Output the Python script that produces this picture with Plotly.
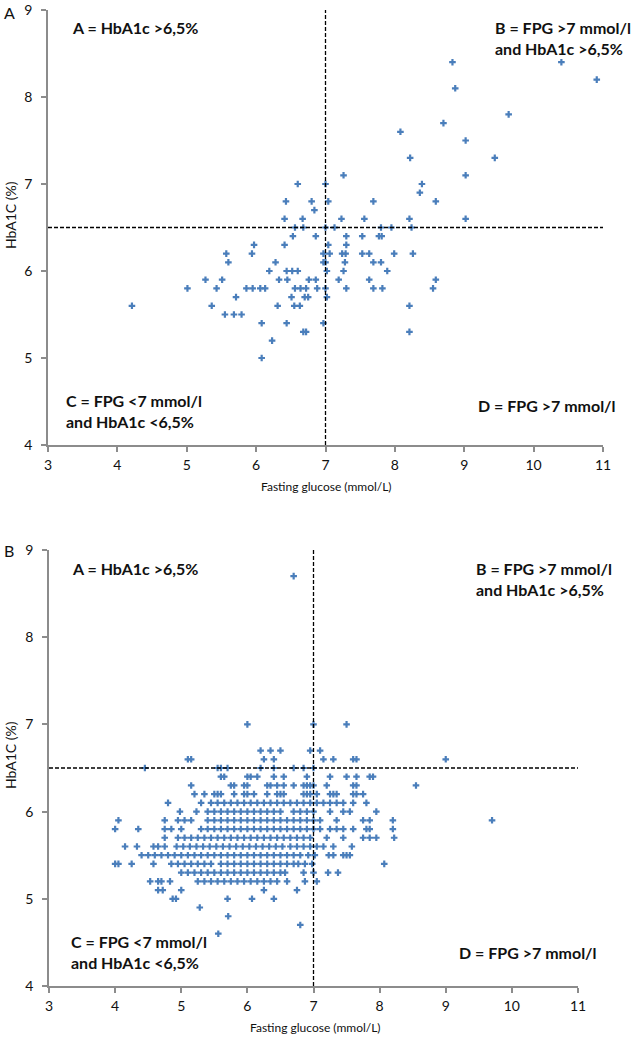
import plotly.graph_objs as go
from plotly.subplots import make_subplots

# Panel A: fasting glucose (mmol/L) vs HbA1c (%)
a_glucose = [4.21, 5.01, 5.27, 5.43, 5.51, 5.36, 5.57, 5.60, 5.55, 5.68, 5.79, 5.71,
             5.86, 5.95, 6.06, 6.13, 5.94, 5.97, 6.08, 6.08, 6.23, 6.19, 6.28, 6.31,
             6.33, 6.41, 6.41, 6.43, 6.44, 6.44, 6.45, 6.51, 6.52, 6.53, 6.55, 6.56,
             6.56, 6.60, 6.60, 6.63, 6.64, 6.67, 6.68, 6.68, 6.72, 6.70, 6.75, 6.72,
             6.76, 6.80, 6.84, 6.86, 6.86, 6.88, 6.97, 6.97, 6.97, 7.00, 7.00, 7.00,
             7.02, 7.02, 7.04, 7.04, 7.06, 7.00, 7.13, 7.19, 7.23, 7.24, 7.26, 7.26,
             7.28, 7.29, 7.30, 7.30, 7.30, 7.53, 7.53, 7.56, 7.63, 7.63, 7.69, 7.69,
             7.69, 7.77, 7.81, 7.80, 7.80, 7.82, 7.89, 7.95, 7.99, 8.08, 8.21, 8.21,
             8.21, 8.22, 8.24, 8.26, 8.36, 8.39, 8.55, 8.59, 8.59, 8.70, 8.83, 8.87,
             9.02, 9.02, 9.02, 9.44, 9.64, 10.40, 10.91]
a_hba1c = [5.6, 5.8, 5.9, 5.8, 5.9, 5.6, 6.2, 6.1, 5.5, 5.5, 5.5, 5.7,
           5.8, 5.8, 5.8, 5.8, 6.2, 6.3, 5.4, 5.0, 5.2, 6.0, 6.1, 5.6,
           5.9, 6.3, 6.6, 6.8, 6.0, 5.4, 5.9, 5.7, 6.0, 6.4, 5.6, 6.5,
           5.8, 6.0, 7.0, 5.6, 5.8, 6.6, 6.5, 5.3, 5.3, 5.7, 5.7, 5.8,
           5.9, 6.8, 6.7, 6.4, 5.9, 5.8, 6.2, 6.1, 5.4, 7.0, 6.5, 5.8,
           6.0, 5.7, 6.8, 6.3, 6.2, 6.1, 6.5, 5.9, 6.6, 6.2, 7.1, 6.0,
           6.1, 6.2, 6.4, 6.3, 5.8, 6.4, 6.2, 6.6, 6.2, 5.9, 6.8, 6.1,
           5.8, 6.4, 6.4, 6.5, 6.1, 5.8, 6.0, 6.5, 6.2, 7.6, 6.6, 5.6,
           5.3, 7.3, 6.5, 6.2, 6.9, 7.0, 5.8, 6.8, 5.9, 7.7, 8.4, 8.1,
           7.5, 7.1, 6.6, 7.3, 7.8, 8.4, 8.2]

# Panel B: one HbA1c level per row, glucose values found on that row
b_levels = [8.7, 7.0, 6.7, 6.6, 6.5, 6.4, 6.3, 6.2, 6.1, 6.0, 5.9, 5.8, 5.7,
            5.6, 5.5, 5.4, 5.3, 5.2, 5.1, 5.0, 4.9, 4.8, 4.7, 4.6]
b_glucose_rows = [
    [6.7],
    [6.0, 7.0, 7.5],
    [6.2, 6.35, 6.5, 6.95, 7.1],
    [5.1, 5.15, 6.25, 6.4, 7.15, 7.3, 7.6, 7.65, 9.0],
    [4.45, 5.55, 5.6, 5.7, 6.2, 6.4, 6.7, 6.85, 7.0],
    [5.6, 5.65, 6.0, 6.05, 6.15, 6.4, 6.55, 6.9, 7.25, 7.5, 7.65, 7.85, 7.9],
    [5.15, 5.75, 5.8, 5.95, 6.0, 6.3, 6.35, 6.45, 6.55, 6.7, 6.85, 6.9, 6.95,
     7.0, 7.2, 7.6, 7.65, 8.55],
    [5.2, 5.35, 5.5, 5.55, 5.6, 5.8, 5.95, 6.0, 6.1, 6.3, 6.45, 6.5, 6.55, 6.85,
     6.9, 6.95, 7.05, 7.25, 7.3, 7.35, 7.6, 7.65, 7.75],
    [4.8, 5.3, 5.45, 5.55, 5.65, 5.75, 5.85, 5.95, 6.05, 6.15, 6.25, 6.35, 6.45,
     6.55, 6.65, 6.75, 6.85, 6.95, 7.05, 7.15, 7.25, 7.35, 7.45, 7.6, 7.8],
    [4.98, 5.23, 5.4, 5.5, 5.6, 5.7, 5.8, 5.9, 6.0, 6.1, 6.2, 6.3, 6.4, 6.5,
     6.7, 6.8, 6.9, 7.0, 7.25, 7.45, 7.55, 7.95],
    [4.05, 4.75, 4.95, 5.05, 5.15, 5.4, 5.5, 5.6, 5.7, 5.8, 5.9, 6.0, 6.1, 6.2,
     6.3, 6.4, 6.5, 6.6, 6.7, 6.8, 6.9, 7.0, 7.1, 7.35, 7.75, 7.85, 8.2, 9.7],
    [4.0, 4.35, 4.75, 4.85, 5.0, 5.3, 5.4, 5.5, 5.6, 5.7, 5.8, 5.9, 6.0, 6.1,
     6.2, 6.3, 6.4, 6.5, 6.6, 6.7, 6.8, 6.9, 7.0, 7.1, 7.25, 7.35, 7.45, 7.6,
     7.8, 7.85, 8.2],
    [4.75, 4.95, 5.05, 5.15, 5.25, 5.35, 5.45, 5.55, 5.65, 5.75, 5.85, 5.95,
     6.05, 6.15, 6.25, 6.35, 6.45, 6.55, 6.65, 6.75, 6.85, 6.95, 7.2, 7.45,
     7.75, 7.85, 7.95, 8.22],
    [4.15, 4.33, 4.58, 4.65, 4.75, 4.93, 5.03, 5.13, 5.23, 5.33, 5.43, 5.53,
     5.63, 5.73, 5.83, 5.93, 6.03, 6.13, 6.23, 6.33, 6.43, 6.53, 6.65, 6.75,
     6.85, 6.95, 7.05, 7.15, 7.3, 7.58],
    [4.4, 4.5, 4.6, 4.7, 4.8, 4.9, 5.0, 5.1, 5.2, 5.3, 5.4, 5.5, 5.6, 5.7, 5.8,
     5.9, 6.0, 6.1, 6.2, 6.3, 6.4, 6.5, 6.6, 6.7, 6.8, 6.92, 7.02, 7.23, 7.3,
     7.45, 7.5, 7.55],
    [4.0, 4.05, 4.25, 4.58, 4.85, 4.95, 5.05, 5.15, 5.25, 5.35, 5.45, 5.6, 5.7,
     5.8, 5.9, 6.0, 6.1, 6.2, 6.3, 6.4, 6.5, 6.6, 6.7, 6.77, 6.87, 6.98, 8.07],
    [5.0, 5.1, 5.2, 5.3, 5.4, 5.5, 5.6, 5.7, 5.8, 5.9, 6.0, 6.1, 6.2, 6.3, 6.4,
     6.5, 6.57, 6.85, 7.0, 7.22, 7.37],
    [4.53, 4.65, 4.7, 4.83, 5.25, 5.35, 5.45, 5.55, 5.65, 5.75, 5.85, 5.95,
     6.05, 6.15, 6.25, 6.35, 6.45, 6.6, 6.87, 7.05],
    [4.65, 4.72, 5.0, 6.25, 6.75],
    [4.87, 4.92, 5.7, 6.07, 6.4],
    [5.28],
    [5.71],
    [6.8],
    [5.56],
]

x_ticks = [3, 4, 5, 6, 7, 8, 9, 10, 11]
y_ticks = [4, 5, 6, 7, 8, 9]
fpg_cut = 7
hba1c_cut = 6.5

b_glucose = [g for row in b_glucose_rows for g in row]
b_hba1c = [lvl for lvl, row in zip(b_levels, b_glucose_rows) for _ in row]

# page body margin is dropped (see post_script), so paper = window pixels
W, H = 641, 1039
FONT = "Lato, Carlito, 'Open Sans', sans-serif"
BLUE = "#4a7ebb"


def fx(px):
    return px / W


def fy(py):
    return 1 - py / H


fig = make_subplots(rows=2, cols=1)

marker = dict(symbol="cross", size=5.5, color=BLUE, line=dict(width=0))
fig.add_trace(go.Scatter(x=a_glucose, y=a_hba1c, mode="markers", marker=marker,
                         showlegend=False), row=1, col=1)
fig.add_trace(go.Scatter(x=b_glucose, y=b_hba1c, mode="markers", marker=marker,
                         showlegend=False), row=2, col=1)

# quadrant cut lines
dash = dict(color="black", width=1.3, dash="4px,2px")
for r in (1, 2):
    fig.add_trace(go.Scatter(x=[3, 11.07], y=[hba1c_cut, hba1c_cut], mode="lines",
                             line=dash, showlegend=False, hoverinfo="skip"), row=r, col=1)
    fig.add_trace(go.Scatter(x=[fpg_cut, fpg_cut], y=[4, 9], mode="lines",
                             line=dash, showlegend=False, hoverinfo="skip"), row=r, col=1)

axis_style = dict(showgrid=False, zeroline=False, showline=True, linecolor="#8c8c8c",
                  linewidth=1.5, ticks="outside", ticklen=5, tickcolor="#8c8c8c",
                  tickwidth=1.5, automargin=False, ticklabeloverflow="allow",
                  tickfont=dict(family=FONT, size=14, color="#111"))

fig.update_xaxes(range=[3, 11], tickvals=x_ticks, ticklabelstandoff=1, **axis_style)
fig.update_yaxes(range=[4, 9], tickvals=y_ticks, ticklabelstandoff=6, **axis_style)

# pixel placement of the two plot areas
fig.update_layout(
    xaxis=dict(domain=[fx(48), fx(603)], anchor="y"),
    yaxis=dict(domain=[fy(445), fy(10)], anchor="x"),
    xaxis2=dict(domain=[fx(49), fx(578)], anchor="y2"),
    yaxis2=dict(domain=[fy(986), fy(550)], anchor="x2"),
)
fig.update_traces(cliponaxis=False)


def px_note(text, x, y, size=16, bold=True, xanchor="left", angle=0):
    fig.add_annotation(text=f"<b>{text}</b>" if bold else text, x=fx(x), y=fy(y),
                       xref="paper", yref="paper", xanchor=xanchor, yanchor="middle",
                       showarrow=False, textangle=angle, align="left",
                       font=dict(family=FONT, size=size, color="#111"))


# panel A
px_note("A", 2, 13, size=16, bold=False)
px_note("A = HbA1c >6,5%", 70, 27)
px_note("B = FPG >7 mmol/l<br>and HbA1c >6,5%", 493, 38)
px_note("C = FPG <7 mmol/l<br>and HbA1c <6,5%", 64, 411)
px_note("D = FPG >7 mmol/l", 476, 405)
px_note("HbA1C (%)", 10, 215, size=14, bold=False, xanchor="center", angle=-90)
px_note("Fasting glucose (mmol/L)", 326, 487, size=12, bold=False, xanchor="center")

# panel B
px_note("B", 2, 550, size=16, bold=False)
px_note("A = HbA1c >6,5%", 70, 568)
px_note("B = FPG >7 mmol/l<br>and HbA1c >6,5%", 474, 579)
px_note("C = FPG <7 mmol/l<br>and HbA1c <6,5%", 69, 952)
px_note("D = FPG >7 mmol/l", 457, 952)
px_note("HbA1C (%)", 10, 755, size=14, bold=False, xanchor="center", angle=-90)
px_note("Fasting glucose (mmol/L)", 315, 1027, size=12, bold=False, xanchor="center")

fig.update_layout(width=W, height=H, margin=dict(l=0, r=0, t=0, b=0),
                  plot_bgcolor="white", paper_bgcolor="white",
                  font=dict(family=FONT))

fig.write_html("out.html", config={"displayModeBar": False},
               post_script="document.body.style.margin = '0';")
